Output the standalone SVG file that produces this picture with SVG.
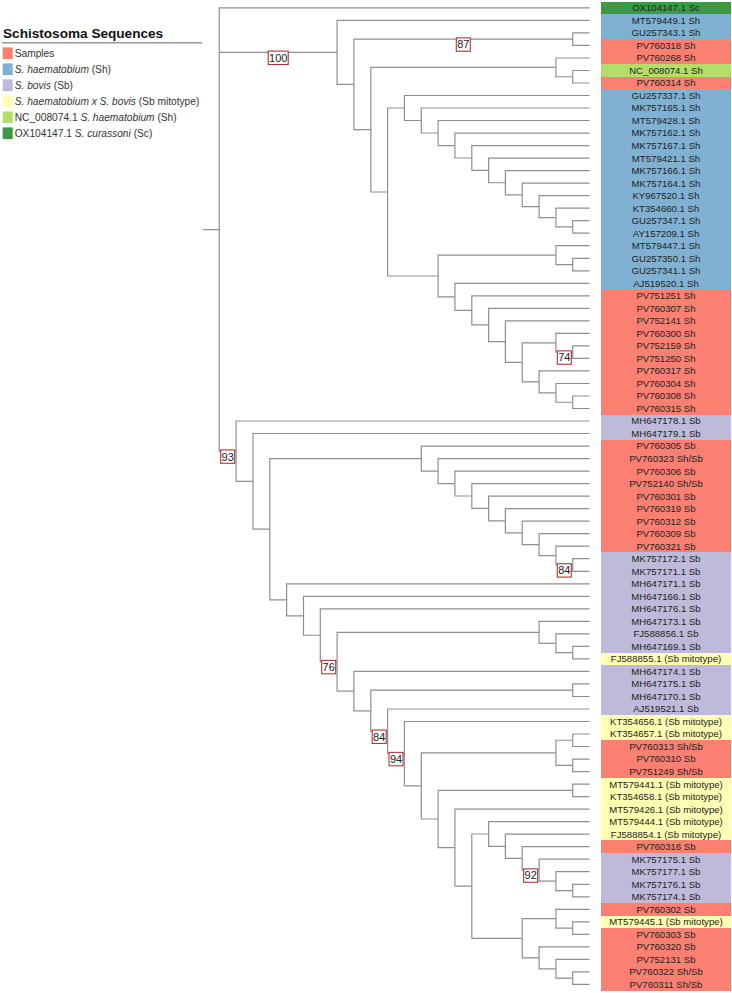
<svg xmlns="http://www.w3.org/2000/svg" width="732" height="993" viewBox="0 0 732 993">
<style>
.br{fill:none;stroke:#8f8f8f;stroke-width:1.2}
.tip text{font-family:"Liberation Sans",Arial,sans-serif;font-size:9.6px;fill:#222;text-anchor:middle}
.tip rect{shape-rendering:crispEdges}
.sc{fill:#3e9a42}.sh{fill:#80b1d3}.sb{fill:#bebada}.hy{fill:#ffffb3}.nc{fill:#b3de69}.sm{fill:#fb8072}
.bs rect{fill:#fff;stroke:#b03434;stroke-width:1.1}
.bs text{font-family:"Liberation Sans",Arial,sans-serif;font-size:11px;fill:#222;text-anchor:middle}
.lg text{font-family:"Liberation Sans",Arial,sans-serif;font-size:10.2px;fill:#333}
.lg .t{font-size:13.6px;font-weight:bold;fill:#111}
.i{font-style:italic}
</style>
<rect width="732" height="993" fill="#fff"/>
<g id="legend" class="lg">
<text class="t" x="3" y="37.5">Schistosoma Sequences</text>
<line x1="2" y1="42.7" x2="202" y2="42.7" stroke="#9a9a9a" stroke-width="1.5"/>
<g id="lg-samples"><rect class="sm" x="2.7" y="47.4" width="10" height="11.7"/><text x="14.7" y="56.8">Samples</text></g>
<g id="lg-sh"><rect class="sh" x="2.7" y="63.4" width="10" height="11.7"/><text x="14.7" y="72.8"><tspan class="i">S. haematobium</tspan> (Sh)</text></g>
<g id="lg-sb"><rect class="sb" x="2.7" y="79.4" width="10" height="11.7"/><text x="14.7" y="88.8"><tspan class="i">S. bovis</tspan> (Sb)</text></g>
<g id="lg-hy"><rect class="hy" x="2.7" y="95.4" width="10" height="11.7"/><text x="14.7" y="104.8"><tspan class="i">S. haematobium x S. bovis</tspan> (Sb mitotype)</text></g>
<g id="lg-nc"><rect class="nc" x="2.7" y="111.4" width="10" height="11.7"/><text x="14.7" y="120.8">NC_008074.1 <tspan class="i">S. haematobium</tspan> (Sh)</text></g>
<g id="lg-sc"><rect class="sc" x="2.7" y="127.4" width="10" height="11.7"/><text x="14.7" y="136.8">OX104147.1 <tspan class="i">S. curassoni</tspan> (Sc)</text></g>
</g>
<g id="connectors" class="br">
<path d="M589.6,7.9H219.3V451.2H236.1M219.3,52.4H337.1M202.7,229.6H219.3"/>
<path d="M589.6,20.4H337.1V84.4H353.9"/>
<path d="M572.7,39.15H353.9V129.7H370.8"/>
<path d="M589.6,32.9H572.7V45.4H589.6"/>
<path d="M555.9,67.4H370.8V192H387.6"/>
<path d="M589.6,58H555.9V76.75H572.7"/>
<path d="M589.6,70.5H572.7V83H589.6"/>
<path d="M404.4,108H387.6V276H438.1"/>
<path d="M589.6,95.5H404.4V120.5H421.3"/>
<path d="M589.6,108H421.3V133H438.1"/>
<path d="M589.6,120.5H438.1V145.55H454.9"/>
<path d="M589.6,133.1H454.9V158H471.8"/>
<path d="M589.6,145.6H471.8V170.4H488.6"/>
<path d="M589.6,158.1H488.6V182.75H505.4"/>
<path d="M589.6,170.6H505.4V194.9H522.2"/>
<path d="M589.6,183.1H522.2V206.65H539.1"/>
<path d="M589.6,195.7H539.1V217.6H555.9"/>
<path d="M589.6,208.2H555.9V226.95H572.7"/>
<path d="M589.6,220.7H572.7V233.2H589.6"/>
<path d="M555.9,255.1H438.1V296.85H454.9"/>
<path d="M589.6,245.7H555.9V264.55H572.7"/>
<path d="M589.6,258.3H572.7V270.8H589.6"/>
<path d="M589.6,283.3H454.9V310.4H471.8"/>
<path d="M589.6,295.8H471.8V324.95H488.6"/>
<path d="M589.6,308.3H488.6V341.6H505.4"/>
<path d="M589.6,320.9H505.4V362.35H522.2"/>
<path d="M555.9,342.8H522.2V381.9H539.1"/>
<path d="M589.6,333.4H555.9V352.15H572.7"/>
<path d="M589.6,345.9H572.7V358.4H589.6"/>
<path d="M589.6,370.9H539.1V392.9H555.9"/>
<path d="M589.6,383.5H555.9V402.25H572.7"/>
<path d="M589.6,396H572.7V408.5H589.6"/>
<path d="M589.6,421H236.1V481.35H253"/>
<path d="M589.6,433.5H253V529.2H269.8"/>
<path d="M421.3,458.6H269.8V599.8H286.6"/>
<path d="M589.6,446.1H421.3V471.1H438.1"/>
<path d="M589.6,458.6H438.1V483.55H454.9"/>
<path d="M589.6,471.1H454.9V496H471.8"/>
<path d="M589.6,483.6H471.8V508.45H488.6"/>
<path d="M589.6,496.1H488.6V520.8H505.4"/>
<path d="M589.6,508.7H505.4V532.9H522.2"/>
<path d="M589.6,521.2H522.2V544.65H539.1"/>
<path d="M589.6,533.7H539.1V555.6H555.9"/>
<path d="M589.6,546.2H555.9V565H572.7"/>
<path d="M589.6,558.7H572.7V571.3H589.6"/>
<path d="M589.6,583.8H286.6V615.8H303.5"/>
<path d="M589.6,596.3H303.5V635.25H320.3"/>
<path d="M589.6,608.8H320.3V661.7H337.1"/>
<path d="M539.1,632.3H337.1V691.1H353.9"/>
<path d="M589.6,621.3H539.1V643.3H555.9"/>
<path d="M589.6,633.9H555.9V652.65H572.7"/>
<path d="M589.6,646.4H572.7V658.9H589.6"/>
<path d="M589.6,671.4H353.9V710.8H370.8"/>
<path d="M572.7,690.2H370.8V731.35H387.6"/>
<path d="M589.6,683.9H572.7V696.5H589.6"/>
<path d="M589.6,709H387.6V753.7H404.4"/>
<path d="M589.6,721.5H404.4V785.9H421.3"/>
<path d="M555.9,752.8H421.3V819H438.1"/>
<path d="M572.7,740.25H555.9V765.35H572.7"/>
<path d="M589.6,734H572.7V746.5H589.6"/>
<path d="M589.6,759.1H572.7V771.6H589.6"/>
<path d="M572.7,790.35H438.1V847.6H454.9"/>
<path d="M589.6,784.1H572.7V796.6H589.6"/>
<path d="M589.6,809.1H454.9V886.15H471.8"/>
<path d="M488.6,834H471.8V938.3H522.2"/>
<path d="M589.6,821.7H488.6V846.3H505.4"/>
<path d="M589.6,834.2H505.4V858.4H522.2"/>
<path d="M589.6,846.7H522.2V870.15H539.1"/>
<path d="M589.6,859.2H539.1V881.1H555.9"/>
<path d="M589.6,871.7H555.9V890.55H572.7"/>
<path d="M589.6,884.3H572.7V896.8H589.6"/>
<path d="M555.9,918.7H522.2V957.85H539.1"/>
<path d="M589.6,909.3H555.9V928.05H572.7"/>
<path d="M589.6,921.8H572.7V934.3H589.6"/>
<path d="M589.6,946.9H539.1V968.8H555.9"/>
<path d="M589.6,959.4H555.9V978.15H572.7"/>
<path d="M589.6,971.9H572.7V984.4H589.6"/>
</g>
<g id="bootstrap">
<g id="bs100" class="bs"><rect x="268.2" y="51.1" width="20" height="13.4"/><text x="278.2" y="61.7">100</text></g>
<g id="bs87" class="bs"><rect x="456.3" y="37.85" width="14" height="13.4"/><text x="463.3" y="48.45">87</text></g>
<g id="bs74" class="bs"><rect x="557.3" y="350.85" width="14" height="13.4"/><text x="564.3" y="361.45">74</text></g>
<g id="bs93" class="bs"><rect x="220.7" y="449.9" width="14" height="13.4"/><text x="227.7" y="460.5">93</text></g>
<g id="bs84a" class="bs"><rect x="557.3" y="563.7" width="14" height="13.4"/><text x="564.3" y="574.3">84</text></g>
<g id="bs76" class="bs"><rect x="321.7" y="660.4" width="14" height="13.4"/><text x="328.7" y="671">76</text></g>
<g id="bs84b" class="bs"><rect x="372.2" y="730.05" width="14" height="13.4"/><text x="379.2" y="740.65">84</text></g>
<g id="bs94" class="bs"><rect x="389" y="752.4" width="14" height="13.4"/><text x="396" y="763">94</text></g>
<g id="bs92" class="bs"><rect x="523.65" y="868.85" width="14" height="13.4"/><text x="530.65" y="879.45">92</text></g>
</g>
<g id="tips">
<g id="t0" class="tip" transform="translate(601,1.6)"><rect class="sc" width="129.5" height="12.9"/><text x="65" y="9.7">OX104147.1 Sc</text></g>
<g id="t1" class="tip" transform="translate(601,14.12)"><rect class="sh" width="129.5" height="12.9"/><text x="65" y="9.7">MT579449.1 Sh</text></g>
<g id="t2" class="tip" transform="translate(601,26.64)"><rect class="sh" width="129.5" height="12.9"/><text x="65" y="9.7">GU257343.1 Sh</text></g>
<g id="t3" class="tip" transform="translate(601,39.16)"><rect class="sm" width="129.5" height="12.9"/><text x="65" y="9.7">PV760318 Sh</text></g>
<g id="t4" class="tip" transform="translate(601,51.68)"><rect class="sm" width="129.5" height="12.9"/><text x="65" y="9.7">PV760268 Sh</text></g>
<g id="t5" class="tip" transform="translate(601,64.2)"><rect class="nc" width="129.5" height="12.9"/><text x="65" y="9.7">NC_008074.1 Sh</text></g>
<g id="t6" class="tip" transform="translate(601,76.72)"><rect class="sm" width="129.5" height="12.9"/><text x="65" y="9.7">PV760314 Sh</text></g>
<g id="t7" class="tip" transform="translate(601,89.24)"><rect class="sh" width="129.5" height="12.9"/><text x="65" y="9.7">GU257337.1 Sh</text></g>
<g id="t8" class="tip" transform="translate(601,101.76)"><rect class="sh" width="129.5" height="12.9"/><text x="65" y="9.7">MK757165.1 Sh</text></g>
<g id="t9" class="tip" transform="translate(601,114.28)"><rect class="sh" width="129.5" height="12.9"/><text x="65" y="9.7">MT579428.1 Sh</text></g>
<g id="t10" class="tip" transform="translate(601,126.8)"><rect class="sh" width="129.5" height="12.9"/><text x="65" y="9.7">MK757162.1 Sh</text></g>
<g id="t11" class="tip" transform="translate(601,139.32)"><rect class="sh" width="129.5" height="12.9"/><text x="65" y="9.7">MK757167.1 Sh</text></g>
<g id="t12" class="tip" transform="translate(601,151.84)"><rect class="sh" width="129.5" height="12.9"/><text x="65" y="9.7">MT579421.1 Sh</text></g>
<g id="t13" class="tip" transform="translate(601,164.36)"><rect class="sh" width="129.5" height="12.9"/><text x="65" y="9.7">MK757166.1 Sh</text></g>
<g id="t14" class="tip" transform="translate(601,176.88)"><rect class="sh" width="129.5" height="12.9"/><text x="65" y="9.7">MK757164.1 Sh</text></g>
<g id="t15" class="tip" transform="translate(601,189.4)"><rect class="sh" width="129.5" height="12.9"/><text x="65" y="9.7">KY967520.1 Sh</text></g>
<g id="t16" class="tip" transform="translate(601,201.92)"><rect class="sh" width="129.5" height="12.9"/><text x="65" y="9.7">KT354660.1 Sh</text></g>
<g id="t17" class="tip" transform="translate(601,214.44)"><rect class="sh" width="129.5" height="12.9"/><text x="65" y="9.7">GU257347.1 Sh</text></g>
<g id="t18" class="tip" transform="translate(601,226.96)"><rect class="sh" width="129.5" height="12.9"/><text x="65" y="9.7">AY157209.1 Sh</text></g>
<g id="t19" class="tip" transform="translate(601,239.48)"><rect class="sh" width="129.5" height="12.9"/><text x="65" y="9.7">MT579447.1 Sh</text></g>
<g id="t20" class="tip" transform="translate(601,252)"><rect class="sh" width="129.5" height="12.9"/><text x="65" y="9.7">GU257350.1 Sh</text></g>
<g id="t21" class="tip" transform="translate(601,264.52)"><rect class="sh" width="129.5" height="12.9"/><text x="65" y="9.7">GU257341.1 Sh</text></g>
<g id="t22" class="tip" transform="translate(601,277.04)"><rect class="sh" width="129.5" height="12.9"/><text x="65" y="9.7">AJ519520.1 Sh</text></g>
<g id="t23" class="tip" transform="translate(601,289.56)"><rect class="sm" width="129.5" height="12.9"/><text x="65" y="9.7">PV751251 Sh</text></g>
<g id="t24" class="tip" transform="translate(601,302.08)"><rect class="sm" width="129.5" height="12.9"/><text x="65" y="9.7">PV760307 Sh</text></g>
<g id="t25" class="tip" transform="translate(601,314.6)"><rect class="sm" width="129.5" height="12.9"/><text x="65" y="9.7">PV752141 Sh</text></g>
<g id="t26" class="tip" transform="translate(601,327.12)"><rect class="sm" width="129.5" height="12.9"/><text x="65" y="9.7">PV760300 Sh</text></g>
<g id="t27" class="tip" transform="translate(601,339.64)"><rect class="sm" width="129.5" height="12.9"/><text x="65" y="9.7">PV752159 Sh</text></g>
<g id="t28" class="tip" transform="translate(601,352.16)"><rect class="sm" width="129.5" height="12.9"/><text x="65" y="9.7">PV751250 Sh</text></g>
<g id="t29" class="tip" transform="translate(601,364.68)"><rect class="sm" width="129.5" height="12.9"/><text x="65" y="9.7">PV760317 Sh</text></g>
<g id="t30" class="tip" transform="translate(601,377.2)"><rect class="sm" width="129.5" height="12.9"/><text x="65" y="9.7">PV760304 Sh</text></g>
<g id="t31" class="tip" transform="translate(601,389.72)"><rect class="sm" width="129.5" height="12.9"/><text x="65" y="9.7">PV760308 Sh</text></g>
<g id="t32" class="tip" transform="translate(601,402.24)"><rect class="sm" width="129.5" height="12.9"/><text x="65" y="9.7">PV760315 Sh</text></g>
<g id="t33" class="tip" transform="translate(601,414.76)"><rect class="sb" width="129.5" height="12.9"/><text x="65" y="9.7">MH647178.1 Sb</text></g>
<g id="t34" class="tip" transform="translate(601,427.28)"><rect class="sb" width="129.5" height="12.9"/><text x="65" y="9.7">MH647179.1 Sb</text></g>
<g id="t35" class="tip" transform="translate(601,439.8)"><rect class="sm" width="129.5" height="12.9"/><text x="65" y="9.7">PV760305 Sb</text></g>
<g id="t36" class="tip" transform="translate(601,452.32)"><rect class="sm" width="129.5" height="12.9"/><text x="65" y="9.7">PV760323 Sh/Sb</text></g>
<g id="t37" class="tip" transform="translate(601,464.84)"><rect class="sm" width="129.5" height="12.9"/><text x="65" y="9.7">PV760306 Sb</text></g>
<g id="t38" class="tip" transform="translate(601,477.36)"><rect class="sm" width="129.5" height="12.9"/><text x="65" y="9.7">PV752140 Sh/Sb</text></g>
<g id="t39" class="tip" transform="translate(601,489.88)"><rect class="sm" width="129.5" height="12.9"/><text x="65" y="9.7">PV760301 Sb</text></g>
<g id="t40" class="tip" transform="translate(601,502.4)"><rect class="sm" width="129.5" height="12.9"/><text x="65" y="9.7">PV760319 Sb</text></g>
<g id="t41" class="tip" transform="translate(601,514.92)"><rect class="sm" width="129.5" height="12.9"/><text x="65" y="9.7">PV760312 Sb</text></g>
<g id="t42" class="tip" transform="translate(601,527.44)"><rect class="sm" width="129.5" height="12.9"/><text x="65" y="9.7">PV760309 Sb</text></g>
<g id="t43" class="tip" transform="translate(601,539.96)"><rect class="sm" width="129.5" height="12.9"/><text x="65" y="9.7">PV760321 Sb</text></g>
<g id="t44" class="tip" transform="translate(601,552.48)"><rect class="sb" width="129.5" height="12.9"/><text x="65" y="9.7">MK757172.1 Sb</text></g>
<g id="t45" class="tip" transform="translate(601,565)"><rect class="sb" width="129.5" height="12.9"/><text x="65" y="9.7">MK757171.1 Sb</text></g>
<g id="t46" class="tip" transform="translate(601,577.52)"><rect class="sb" width="129.5" height="12.9"/><text x="65" y="9.7">MH647171.1 Sb</text></g>
<g id="t47" class="tip" transform="translate(601,590.04)"><rect class="sb" width="129.5" height="12.9"/><text x="65" y="9.7">MH647166.1 Sb</text></g>
<g id="t48" class="tip" transform="translate(601,602.56)"><rect class="sb" width="129.5" height="12.9"/><text x="65" y="9.7">MH647176.1 Sb</text></g>
<g id="t49" class="tip" transform="translate(601,615.08)"><rect class="sb" width="129.5" height="12.9"/><text x="65" y="9.7">MH647173.1 Sb</text></g>
<g id="t50" class="tip" transform="translate(601,627.6)"><rect class="sb" width="129.5" height="12.9"/><text x="65" y="9.7">FJ588856.1 Sb</text></g>
<g id="t51" class="tip" transform="translate(601,640.12)"><rect class="sb" width="129.5" height="12.9"/><text x="65" y="9.7">MH647169.1 Sb</text></g>
<g id="t52" class="tip" transform="translate(601,652.64)"><rect class="hy" width="129.5" height="12.9"/><text x="65" y="9.7">FJ588855.1 (Sb mitotype)</text></g>
<g id="t53" class="tip" transform="translate(601,665.16)"><rect class="sb" width="129.5" height="12.9"/><text x="65" y="9.7">MH647174.1 Sb</text></g>
<g id="t54" class="tip" transform="translate(601,677.68)"><rect class="sb" width="129.5" height="12.9"/><text x="65" y="9.7">MH647175.1 Sb</text></g>
<g id="t55" class="tip" transform="translate(601,690.2)"><rect class="sb" width="129.5" height="12.9"/><text x="65" y="9.7">MH647170.1 Sb</text></g>
<g id="t56" class="tip" transform="translate(601,702.72)"><rect class="sb" width="129.5" height="12.9"/><text x="65" y="9.7">AJ519521.1 Sb</text></g>
<g id="t57" class="tip" transform="translate(601,715.24)"><rect class="hy" width="129.5" height="12.9"/><text x="65" y="9.7">KT354656.1 (Sb mitotype)</text></g>
<g id="t58" class="tip" transform="translate(601,727.76)"><rect class="hy" width="129.5" height="12.9"/><text x="65" y="9.7">KT354657.1 (Sb mitotype)</text></g>
<g id="t59" class="tip" transform="translate(601,740.28)"><rect class="sm" width="129.5" height="12.9"/><text x="65" y="9.7">PV760313 Sh/Sb</text></g>
<g id="t60" class="tip" transform="translate(601,752.8)"><rect class="sm" width="129.5" height="12.9"/><text x="65" y="9.7">PV760310 Sb</text></g>
<g id="t61" class="tip" transform="translate(601,765.32)"><rect class="sm" width="129.5" height="12.9"/><text x="65" y="9.7">PV751249 Sh/Sb</text></g>
<g id="t62" class="tip" transform="translate(601,777.84)"><rect class="hy" width="129.5" height="12.9"/><text x="65" y="9.7">MT579441.1 (Sb mitotype)</text></g>
<g id="t63" class="tip" transform="translate(601,790.36)"><rect class="hy" width="129.5" height="12.9"/><text x="65" y="9.7">KT354658.1 (Sb mitotype)</text></g>
<g id="t64" class="tip" transform="translate(601,802.88)"><rect class="hy" width="129.5" height="12.9"/><text x="65" y="9.7">MT579426.1 (Sb mitotype)</text></g>
<g id="t65" class="tip" transform="translate(601,815.4)"><rect class="hy" width="129.5" height="12.9"/><text x="65" y="9.7">MT579444.1 (Sb mitotype)</text></g>
<g id="t66" class="tip" transform="translate(601,827.92)"><rect class="hy" width="129.5" height="12.9"/><text x="65" y="9.7">FJ588854.1 (Sb mitotype)</text></g>
<g id="t67" class="tip" transform="translate(601,840.44)"><rect class="sm" width="129.5" height="12.9"/><text x="65" y="9.7">PV760316 Sb</text></g>
<g id="t68" class="tip" transform="translate(601,852.96)"><rect class="sb" width="129.5" height="12.9"/><text x="65" y="9.7">MK757175.1 Sb</text></g>
<g id="t69" class="tip" transform="translate(601,865.48)"><rect class="sb" width="129.5" height="12.9"/><text x="65" y="9.7">MK757177.1 Sb</text></g>
<g id="t70" class="tip" transform="translate(601,878)"><rect class="sb" width="129.5" height="12.9"/><text x="65" y="9.7">MK757176.1 Sb</text></g>
<g id="t71" class="tip" transform="translate(601,890.52)"><rect class="sb" width="129.5" height="12.9"/><text x="65" y="9.7">MK757174.1 Sb</text></g>
<g id="t72" class="tip" transform="translate(601,903.04)"><rect class="sm" width="129.5" height="12.9"/><text x="65" y="9.7">PV760302 Sb</text></g>
<g id="t73" class="tip" transform="translate(601,915.56)"><rect class="hy" width="129.5" height="12.9"/><text x="65" y="9.7">MT579445.1 (Sb mitotype)</text></g>
<g id="t74" class="tip" transform="translate(601,928.08)"><rect class="sm" width="129.5" height="12.9"/><text x="65" y="9.7">PV760303 Sb</text></g>
<g id="t75" class="tip" transform="translate(601,940.6)"><rect class="sm" width="129.5" height="12.9"/><text x="65" y="9.7">PV760320 Sb</text></g>
<g id="t76" class="tip" transform="translate(601,953.12)"><rect class="sm" width="129.5" height="12.9"/><text x="65" y="9.7">PV752131 Sb</text></g>
<g id="t77" class="tip" transform="translate(601,965.64)"><rect class="sm" width="129.5" height="12.9"/><text x="65" y="9.7">PV760322 Sh/Sb</text></g>
<g id="t78" class="tip" transform="translate(601,978.16)"><rect class="sm" width="129.5" height="12.6"/><text x="65" y="9.7">PV760311 Sh/Sb</text></g>
</g>
</svg>
